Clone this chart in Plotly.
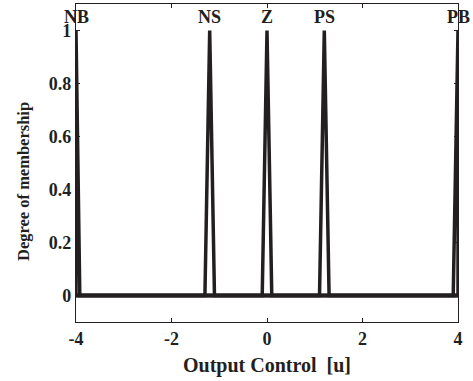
import plotly.graph_objects as go

# Triangular membership functions for the output variable u
labels = ["NB", "NS", "Z", "PS", "PB"]
left_feet = [-4.0, -1.3, -0.1, 1.1, 3.9]
peaks = [-4.0, -1.2, 0.0, 1.2, 4.0]
right_feet = [-3.92, -1.1, 0.1, 1.3, 4.0]
peak_heights = [1.0, 1.0, 1.0, 1.0, 1.0]
x_min, x_max = -4.0, 4.0

x_ticks = [-4, -2, 0, 2, 4]
x_tick_text = ["-4", "-2", "0", "2", "4"]
y_ticks = [0, 0.2, 0.4, 0.6, 0.8, 1]
y_tick_text = ["0", "0.2", "0.4", "0.6", "0.8", "1"]

font_family = "Liberation Serif, Times New Roman, serif"
ink = "#231f20"

fig = go.Figure()
for name, a, b, c, h in zip(labels, left_feet, peaks, right_feet, peak_heights):
    xs = [x_min, a, b, c, x_max]
    ys = [0, 0, h, 0, 0]
    fig.add_trace(go.Scatter(x=xs, y=ys, mode="lines", name=name,
                             line=dict(color=ink, width=3.5),
                             showlegend=False, hoverinfo="skip"))
    fig.add_annotation(x=b, y=1.05, text=name, showarrow=False,
                       font=dict(family=font_family, size=18, color=ink,
                                 weight="bold"),
                       xanchor="center", yanchor="middle")

axis_common = dict(showline=True, linecolor=ink, linewidth=1.2,
                   mirror="ticks", ticks="inside", ticklen=4, tickwidth=1,
                   tickcolor=ink, showgrid=False, zeroline=False,
                   tickfont=dict(family=font_family, size=18, color=ink,
                                 weight="bold"))

fig.update_xaxes(range=[x_min, x_max], tickvals=x_ticks, ticktext=x_tick_text,
                 title=dict(text="Output Control&nbsp;&nbsp;[u]", standoff=10,
                            font=dict(family=font_family, size=20,
                                      color=ink, weight="bold")),
                 **axis_common)
fig.update_yaxes(range=[-0.1, 1.1], tickvals=y_ticks, ticktext=y_tick_text,
                 **axis_common)

# Vertical axis label, placed slightly below the plot-area centre
fig.add_annotation(xref="paper", yref="paper", x=-0.139, y=0.443,
                   text="Degree of membership", textangle=-90,
                   showarrow=False, xanchor="center", yanchor="middle",
                   font=dict(family=font_family, size=16.5, color=ink,
                             weight="bold"))

fig.update_layout(width=473, height=381,
                  margin=dict(l=76, r=15, t=4, b=59),
                  plot_bgcolor="white", paper_bgcolor="white")

fig.write_html("out.html")
